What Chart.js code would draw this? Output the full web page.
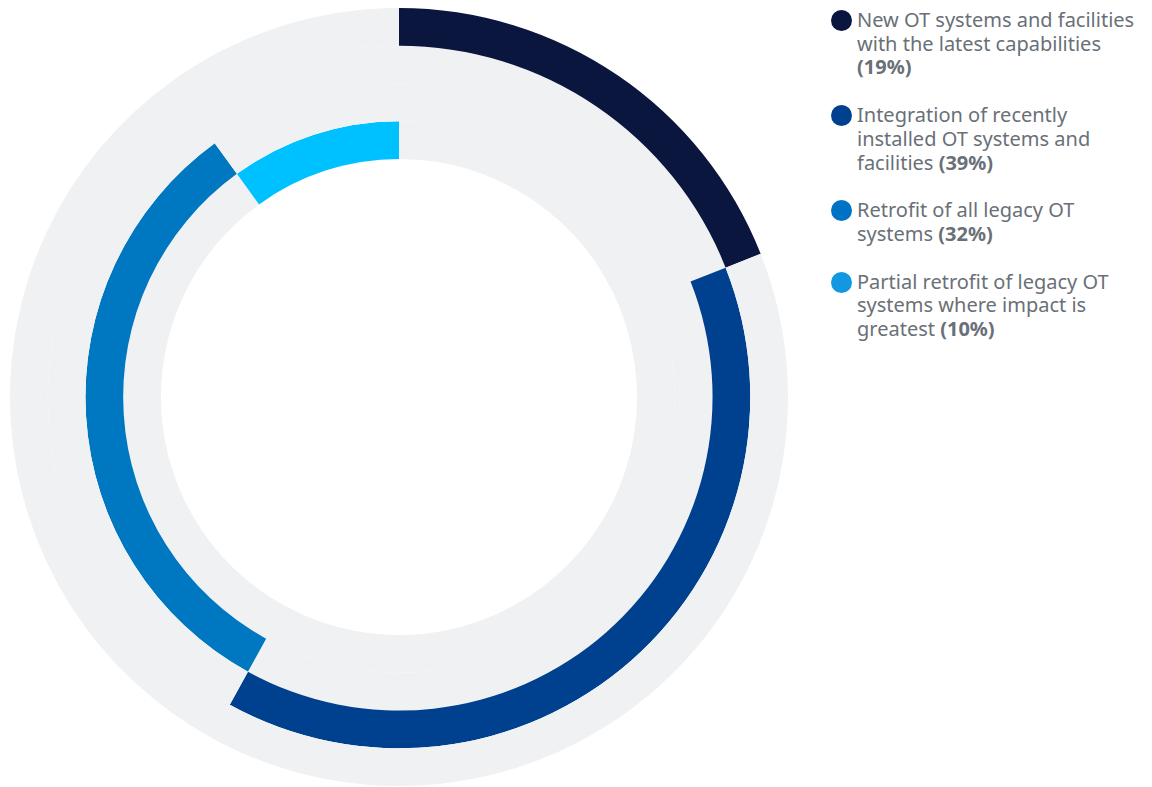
<!DOCTYPE html>
<html>
<head>
<meta charset="utf-8">
<script src="https://cdn.jsdelivr.net/npm/chart.js@4"></script>
<style>
  html, body { margin: 0; padding: 0; background: #fff; }
  #wrap { position: relative; width: 1152px; height: 787px; overflow: hidden; }
  #ring { position: absolute; left: 0; top: 0; }
  #legend {
    position: absolute; left: 831px; top: 8px; width: 313px;
    font-family: "Noto Sans", sans-serif; font-size: 20px; line-height: 23.7px;
    color: #697077;
  }
  .item { display: flex; align-items: flex-start; margin-bottom: 24px; }
  .dot { flex: none; width: 21px; height: 21px; border-radius: 50%; margin-top: 2px; margin-right: 5px; }
  .txt b { font-weight: 700; color: #697077; }
</style>
</head>
<body>
<div id="wrap">
  <canvas id="ring" width="798" height="787"></canvas>
  <div id="legend"></div>
</div>
<script>
const categories = [
  'New OT systems and facilities with the latest capabilities',
  'Integration of recently installed OT systems and facilities',
  'Retrofit of all legacy OT systems',
  'Partial retrofit of legacy OT systems where impact is greatest'
];
const shares = [19, 39, 32, 10];
const ringColors = ['#0b163e', '#00418f', '#0077c1', '#00c1ff'];
const dotColors = ['#0b163e', '#00418f', '#0072c3', '#1198e1'];
const track = '#f0f1f3';

// one ring per category: its own slice coloured, the rest left as track
const datasets = categories.map((name, i) => ({
  label: name,
  data: shares,
  backgroundColor: shares.map((_, j) => j === i ? ringColors[i] : track),
  borderWidth: 0,
  hoverOffset: 0
}));

new Chart(document.getElementById('ring'), {
  type: 'doughnut',
  data: { labels: categories, datasets: datasets },
  options: {
    responsive: false,
    animation: false,
    cutout: '61.2%',
    layout: { padding: { left: 10, right: 10, top: 8, bottom: 1 } },
    events: [],
    plugins: {
      legend: { display: false },
      tooltip: { enabled: false }
    }
  }
});

const legend = document.getElementById('legend');
categories.forEach((name, i) => {
  const row = document.createElement('div');
  row.className = 'item';
  row.innerHTML = '<span class="dot" style="background:' + dotColors[i] + '"></span>' +
    '<span class="txt">' + name + ' <b>(' + shares[i] + '%)</b></span>';
  legend.appendChild(row);
});
</script>
</body>
</html>
